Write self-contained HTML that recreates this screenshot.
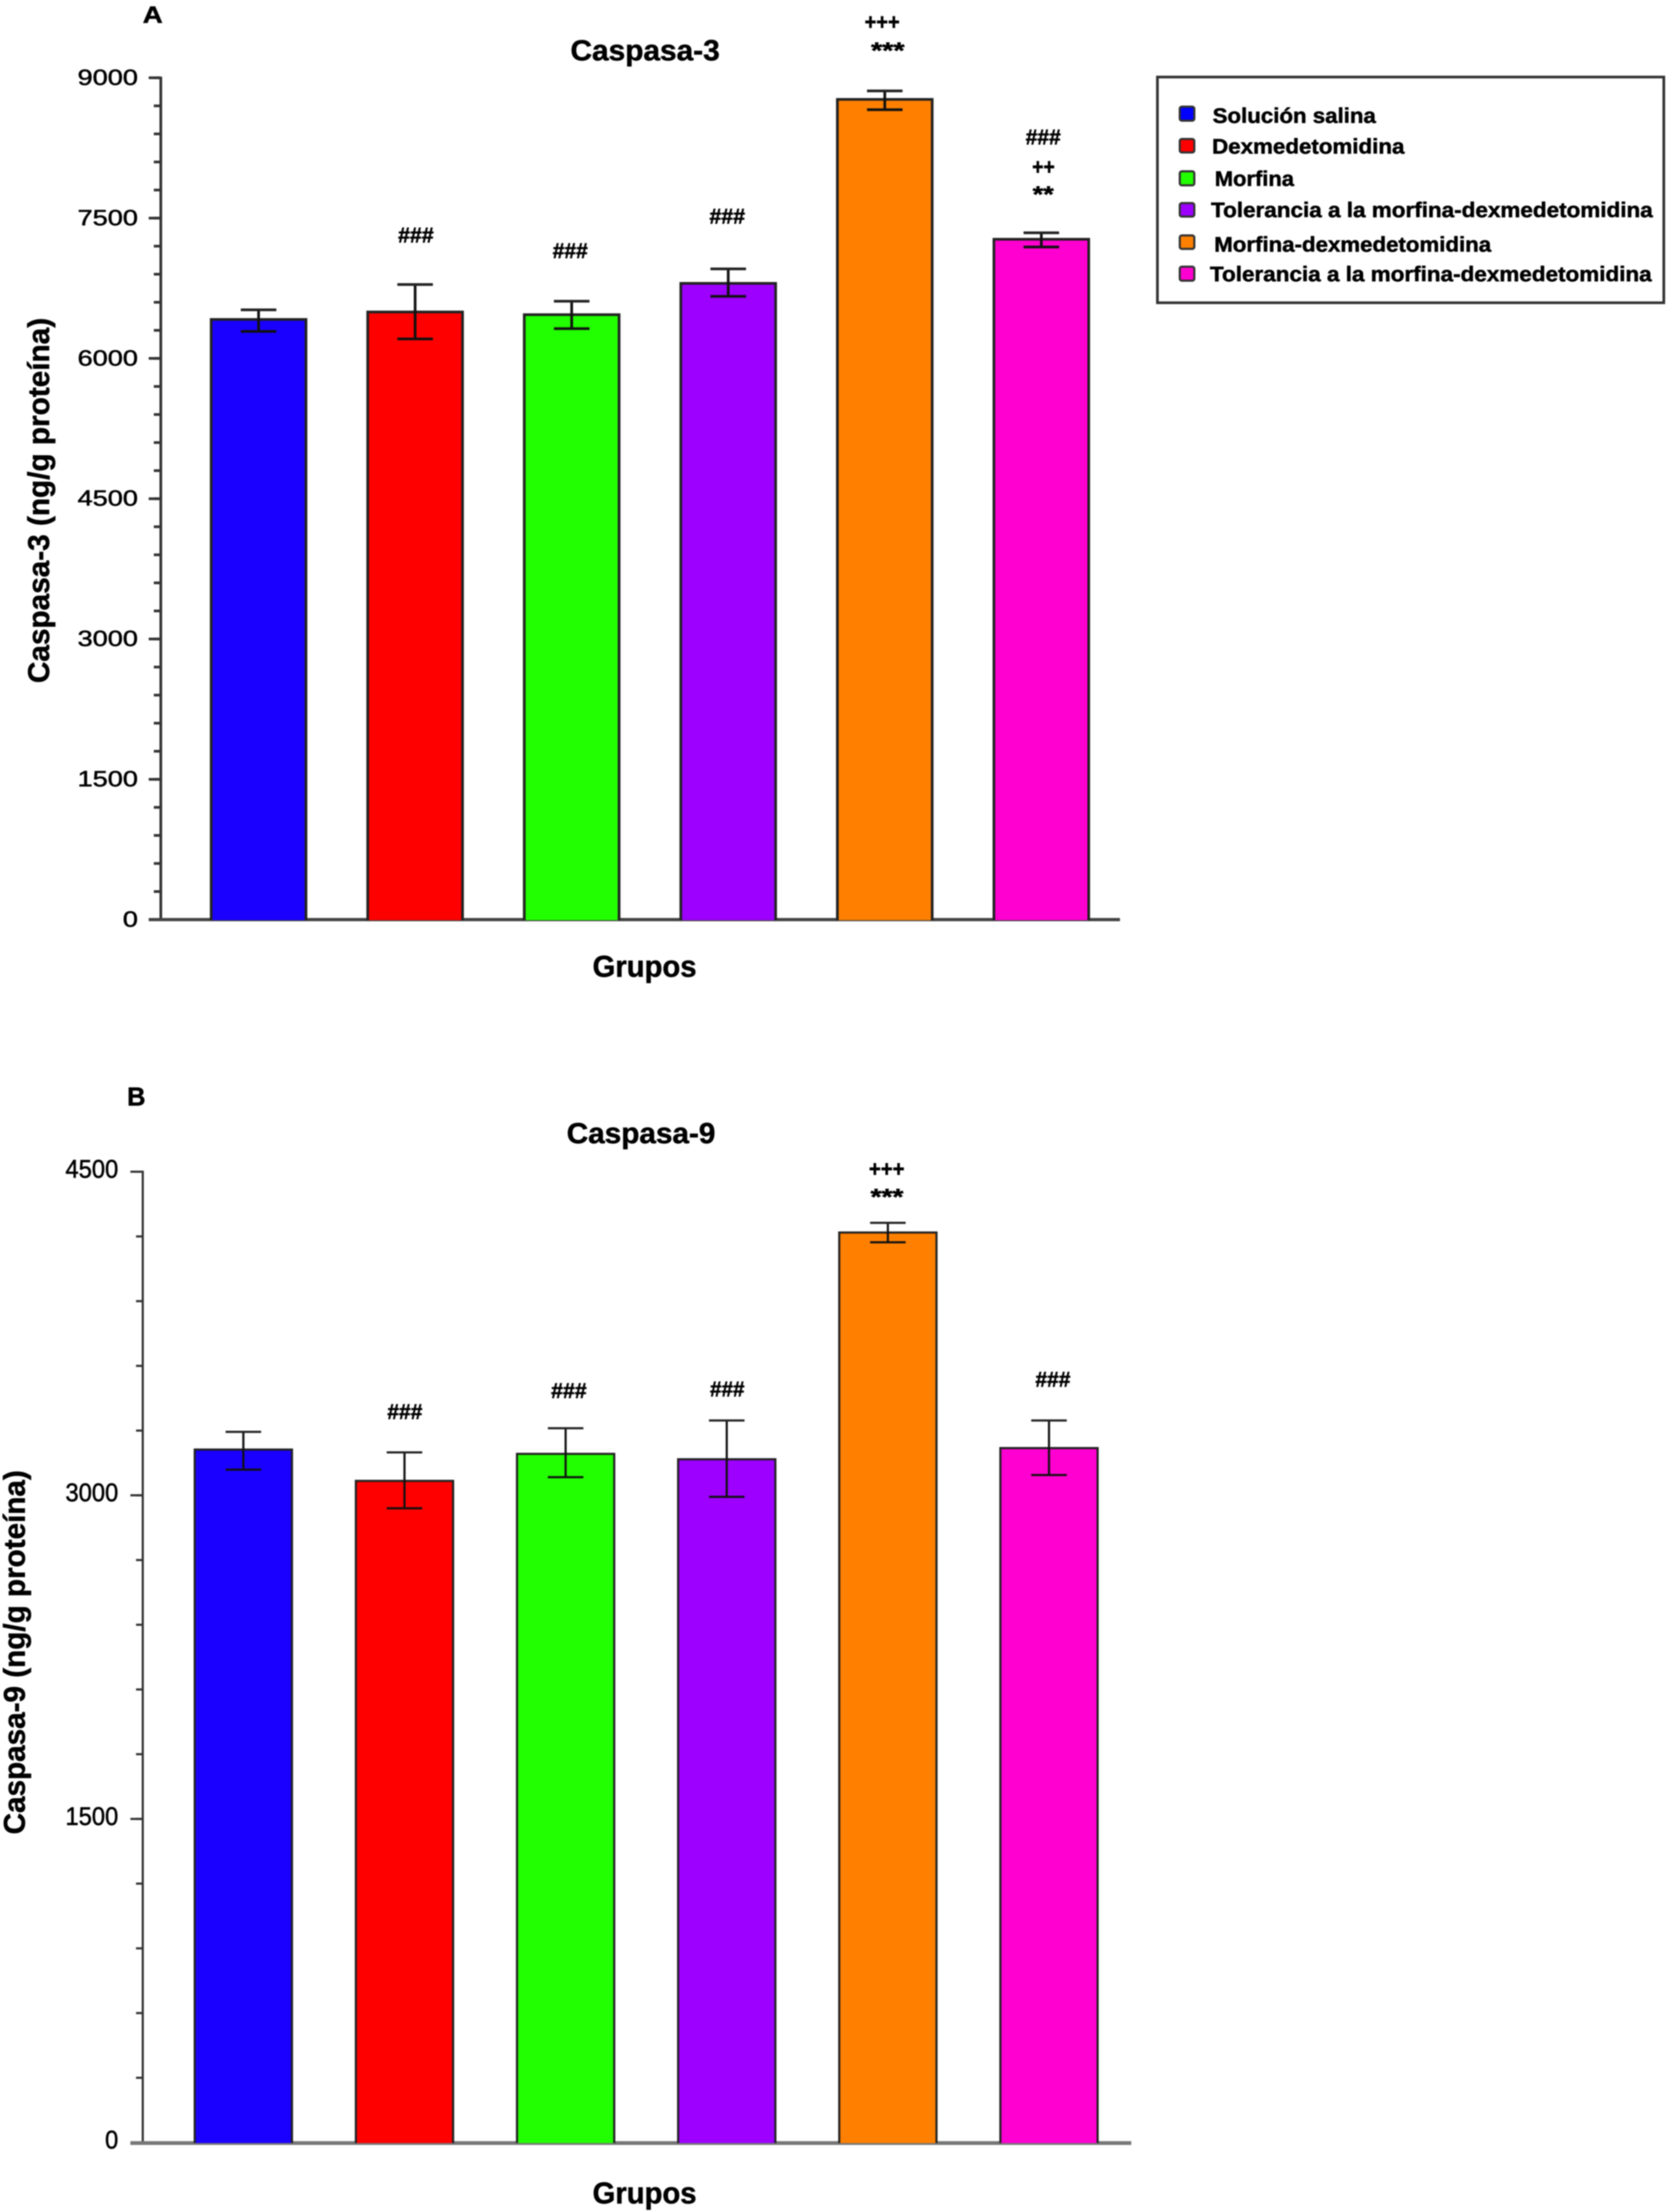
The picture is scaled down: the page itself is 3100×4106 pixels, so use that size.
<!DOCTYPE html>
<html lang="es">
<head>
<meta charset="utf-8">
<title>Caspasa-3 y Caspasa-9</title>
<style>
html,body{margin:0;padding:0;background:#fff;}
svg{display:block;filter:blur(1.1px);}
text{font-family:"Liberation Sans",sans-serif;fill:#000;stroke:#000;stroke-width:0.9px;}
.b{font-weight:bold;}
</style>
</head>
<body>
<svg id="figure" xmlns="http://www.w3.org/2000/svg" width="3100" height="4106" viewBox="0 0 3100 4106">
  <rect x="0" y="0" width="3100" height="4106" fill="#fff"/>

  <g id="panel-a"></g>
  <g id="panel-b"></g>

  <text class="b" x="265" y="42" font-size="44" textLength="37" lengthAdjust="spacingAndGlyphs">A</text>
  <text class="b" x="1059" y="112" font-size="54" textLength="277" lengthAdjust="spacingAndGlyphs">Caspasa-3</text>
  <text class="b" transform="translate(91,1268) rotate(-90)" font-size="56" textLength="678" lengthAdjust="spacingAndGlyphs">Caspasa-3 (ng/g proteína)</text>
  <text class="b" x="1100" y="1813" font-size="56" textLength="193" lengthAdjust="spacingAndGlyphs">Grupos</text>

  <text class="b" x="739" y="450" font-size="40" textLength="66" lengthAdjust="spacingAndGlyphs">###</text>
  <text class="b" x="1026" y="479" font-size="40" textLength="65" lengthAdjust="spacingAndGlyphs">###</text>
  <text class="b" x="1317" y="415" font-size="40" textLength="66" lengthAdjust="spacingAndGlyphs">###</text>
  <text class="b" x="1605" y="55" font-size="42" textLength="65" lengthAdjust="spacingAndGlyphs">+++</text>
  <text class="b" x="1617" y="108" font-size="42" textLength="62" lengthAdjust="spacingAndGlyphs">***</text>
  <text class="b" x="1904" y="268" font-size="40" textLength="65" lengthAdjust="spacingAndGlyphs">###</text>
  <text class="b" x="1916" y="324" font-size="42" textLength="42" lengthAdjust="spacingAndGlyphs">++</text>
  <text class="b" x="1917" y="375" font-size="42" textLength="39" lengthAdjust="spacingAndGlyphs">**</text>

  <g>
    <rect x="2148.5" y="143" width="940" height="419" fill="#fff" stroke="#333" stroke-width="5"/>
    <g>
      <rect x="2190" y="198" width="27" height="26" rx="4" fill="#0000ff" stroke="#333" stroke-width="4"/>
      <text class="b" x="2251" y="228" font-size="39" textLength="303" lengthAdjust="spacingAndGlyphs">Solución salina</text>
    </g>
    <g>
      <rect x="2190" y="258" width="27" height="25" rx="4" fill="#ff0000" stroke="#333" stroke-width="4"/>
      <text class="b" x="2250" y="285" font-size="39" textLength="357" lengthAdjust="spacingAndGlyphs">Dexmedetomidina</text>
    </g>
    <g>
      <rect x="2190" y="318" width="27" height="26" rx="4" fill="#22ff00" stroke="#333" stroke-width="4"/>
      <text class="b" x="2255" y="345" font-size="39" textLength="147" lengthAdjust="spacingAndGlyphs">Morfina</text>
    </g>
    <g>
      <rect x="2190" y="377" width="27" height="25" rx="4" fill="#9d00ff" stroke="#333" stroke-width="4"/>
      <text class="b" x="2248" y="403" font-size="39" textLength="820" lengthAdjust="spacingAndGlyphs">Tolerancia a la morfina-dexmedetomidina</text>
    </g>
    <g>
      <rect x="2190" y="437" width="27" height="25" rx="4" fill="#ff8000" stroke="#333" stroke-width="4"/>
      <text class="b" x="2254" y="467" font-size="39" textLength="514" lengthAdjust="spacingAndGlyphs">Morfina-dexmedetomidina</text>
    </g>
    <g>
      <rect x="2190" y="495" width="27" height="26" rx="4" fill="#ff00d0" stroke="#333" stroke-width="4"/>
      <text class="b" x="2246" y="522" font-size="39" textLength="820" lengthAdjust="spacingAndGlyphs">Tolerancia a la morfina-dexmedetomidina</text>
    </g>
  </g>

  <text class="b" x="236" y="2052" font-size="48" textLength="34" lengthAdjust="spacingAndGlyphs">B</text>
  <text class="b" x="1052" y="2122" font-size="54" textLength="276" lengthAdjust="spacingAndGlyphs">Caspasa-9</text>
  <text class="b" transform="translate(46,3405) rotate(-90)" font-size="56" textLength="676" lengthAdjust="spacingAndGlyphs">Caspasa-9 (ng/g proteína)</text>
  <text class="b" x="1100" y="4090" font-size="56" textLength="193" lengthAdjust="spacingAndGlyphs">Grupos</text>

  <text class="b" x="719" y="2634" font-size="40" textLength="65" lengthAdjust="spacingAndGlyphs">###</text>
  <text class="b" x="1023" y="2595" font-size="40" textLength="66" lengthAdjust="spacingAndGlyphs">###</text>
  <text class="b" x="1318" y="2592" font-size="40" textLength="64" lengthAdjust="spacingAndGlyphs">###</text>
  <text class="b" x="1922" y="2574" font-size="40" textLength="65" lengthAdjust="spacingAndGlyphs">###</text>
  <text class="b" x="1613" y="2184" font-size="42" textLength="66" lengthAdjust="spacingAndGlyphs">+++</text>
  <text class="b" x="1616" y="2236" font-size="42" textLength="61" lengthAdjust="spacingAndGlyphs">***</text>
</svg>

<script>
// ---- chart data ----
var categoryKeys = ['solucion-salina', 'dexmedetomidina', 'morfina', 'tolerancia-morfina-dexmedetomidina-1', 'morfina-dexmedetomidina', 'tolerancia-morfina-dexmedetomidina-2'];
var barColors = ['#1a00ff', '#ff0000', '#22ff00', '#9d00ff', '#ff8000', '#ff00d0'];

var caspasa3Means = [6416, 6496, 6467, 6802, 8769, 7274];
var caspasa3Upper = [6519, 6790, 6611, 6957, 8860, 7343];
var caspasa3Lower = [6289, 6208, 6318, 6663, 8659, 7191];
var caspasa3TickLabels = ['0', '1500', '3000', '4500', '6000', '7500', '9000'];
var caspasa3Max = 9000;
var caspasa3MinorStep = 300;

var caspasa9Means = [3212, 3067, 3192, 3167, 4218, 3219];
var caspasa9Upper = [3294, 3199, 3311, 3347, 4263, 3347];
var caspasa9Lower = [3119, 2940, 3084, 2993, 4173, 3094];
var caspasa9TickLabels = ['0', '1500', '3000', '4500'];
var caspasa9Max = 4500;
var caspasa9MinorStep = 300;

// ---- drawing ----
var SVGNS = 'http://www.w3.org/2000/svg';
function mk(parent, tag, attrs) {
  var node = document.createElementNS(SVGNS, tag);
  for (var k in attrs) { node.setAttribute(k, attrs[k]); }
  parent.appendChild(node);
  return node;
}

function drawPanel(panel, means, upper, lower, tickLabels, maxValue, minorStep, g) {
  function yScale(v) { return g.y0 - v * (g.y0 - g.yTop) / maxValue; }
  function barLeft(i) { return g.barStart + i * g.barStep; }
  var el, i;

  // minor ticks
  for (var m = 0; m <= maxValue; m += minorStep) {
    el = mk(panel, 'line', {x1: g.minorX, x2: g.axisX, y1: yScale(m), y2: yScale(m), stroke: '#333', 'stroke-width': g.tickW});
    
    
  }
  // major ticks and labels
  for (i = 0; i < tickLabels.length; i++) {
    var tv = parseFloat(tickLabels[i]);
    el = mk(panel, 'line', {x1: g.majorX, x2: g.axisX, y1: yScale(tv), y2: yScale(tv), stroke: '#333', 'stroke-width': g.tickW});
    
    

    var w = g.digitW * tickLabels[i].length;
    el = mk(panel, 'text', {x: g.labelRight - w, y: yScale(tv) + g.labelDy, 'font-size': g.labelSize, textLength: w, lengthAdjust: 'spacingAndGlyphs', fill: '#222'});
    el.textContent = tickLabels[i];
    
    
  }
  // axes
  el = mk(panel, 'line', {x1: g.axisX, x2: g.axisX, y1: yScale(maxValue) - 2, y2: g.y0, stroke: '#333', 'stroke-width': g.axisW});
  
  

  el = mk(panel, 'line', {x1: g.majorX, x2: g.xEnd, y1: g.y0 + g.xAxisDy, y2: g.y0 + g.xAxisDy, stroke: g.xAxisColor, 'stroke-width': g.xAxisW});
  
  

  // bars and error bars
  for (i = 0; i < means.length; i++) {
    var left = barLeft(i), right = left + g.barW, center = left + g.barW / 2, top = yScale(means[i]);

    el = mk(panel, 'rect', {x: left, y: top, width: g.barW, height: g.y0 + 1 - top, fill: barColors[i]});
    
    

    el = mk(panel, 'path', {d: 'M' + left + ' ' + (g.y0 + 1) + 'V' + top + 'H' + right + 'V' + (g.y0 + 1), fill: 'none', stroke: '#222', 'stroke-width': g.barStroke});
    
    

    el = mk(panel, 'line', {x1: center, x2: center, y1: yScale(upper[i]), y2: yScale(lower[i]), stroke: '#111', 'stroke-width': g.errW});
    
    

    el = mk(panel, 'line', {x1: center - g.capHalf, x2: center + g.capHalf, y1: yScale(upper[i]), y2: yScale(upper[i]), stroke: '#222', 'stroke-width': g.errW});
    
    

    el = mk(panel, 'line', {x1: center - g.capHalf, x2: center + g.capHalf, y1: yScale(lower[i]), y2: yScale(lower[i]), stroke: '#111', 'stroke-width': g.errW});
    
    
  }
}

drawPanel(document.getElementById('panel-a'), caspasa3Means, caspasa3Upper, caspasa3Lower, caspasa3TickLabels, caspasa3Max, caspasa3MinorStep, {
  y0: 1707, yTop: 144.4, axisX: 298.5, majorX: 276, minorX: 285.5, xEnd: 2079,
  axisW: 5, tickW: 5, xAxisW: 6, xAxisDy: 0, xAxisColor: '#444',
  barStart: 392, barStep: 290.6, barW: 176, barStroke: 5, errW: 5, capHalf: 33,
  digitW: 28, labelRight: 256, labelSize: 41, labelDy: 13
});
drawPanel(document.getElementById('panel-b'), caspasa9Means, caspasa9Upper, caspasa9Lower, caspasa9TickLabels, caspasa9Max, caspasa9MinorStep, {
  y0: 3977, yTop: 2175, axisX: 265, majorX: 242, minorX: 252.5, xEnd: 2100,
  axisW: 4, tickW: 4, xAxisW: 7, xAxisDy: 1, xAxisColor: '#777',
  barStart: 361.5, barStep: 299.1, barW: 180.5, barStroke: 4, errW: 4, capHalf: 33,
  digitW: 24.5, labelRight: 219.5, labelSize: 47, labelDy: 11
});
</script>
</body>
</html>
